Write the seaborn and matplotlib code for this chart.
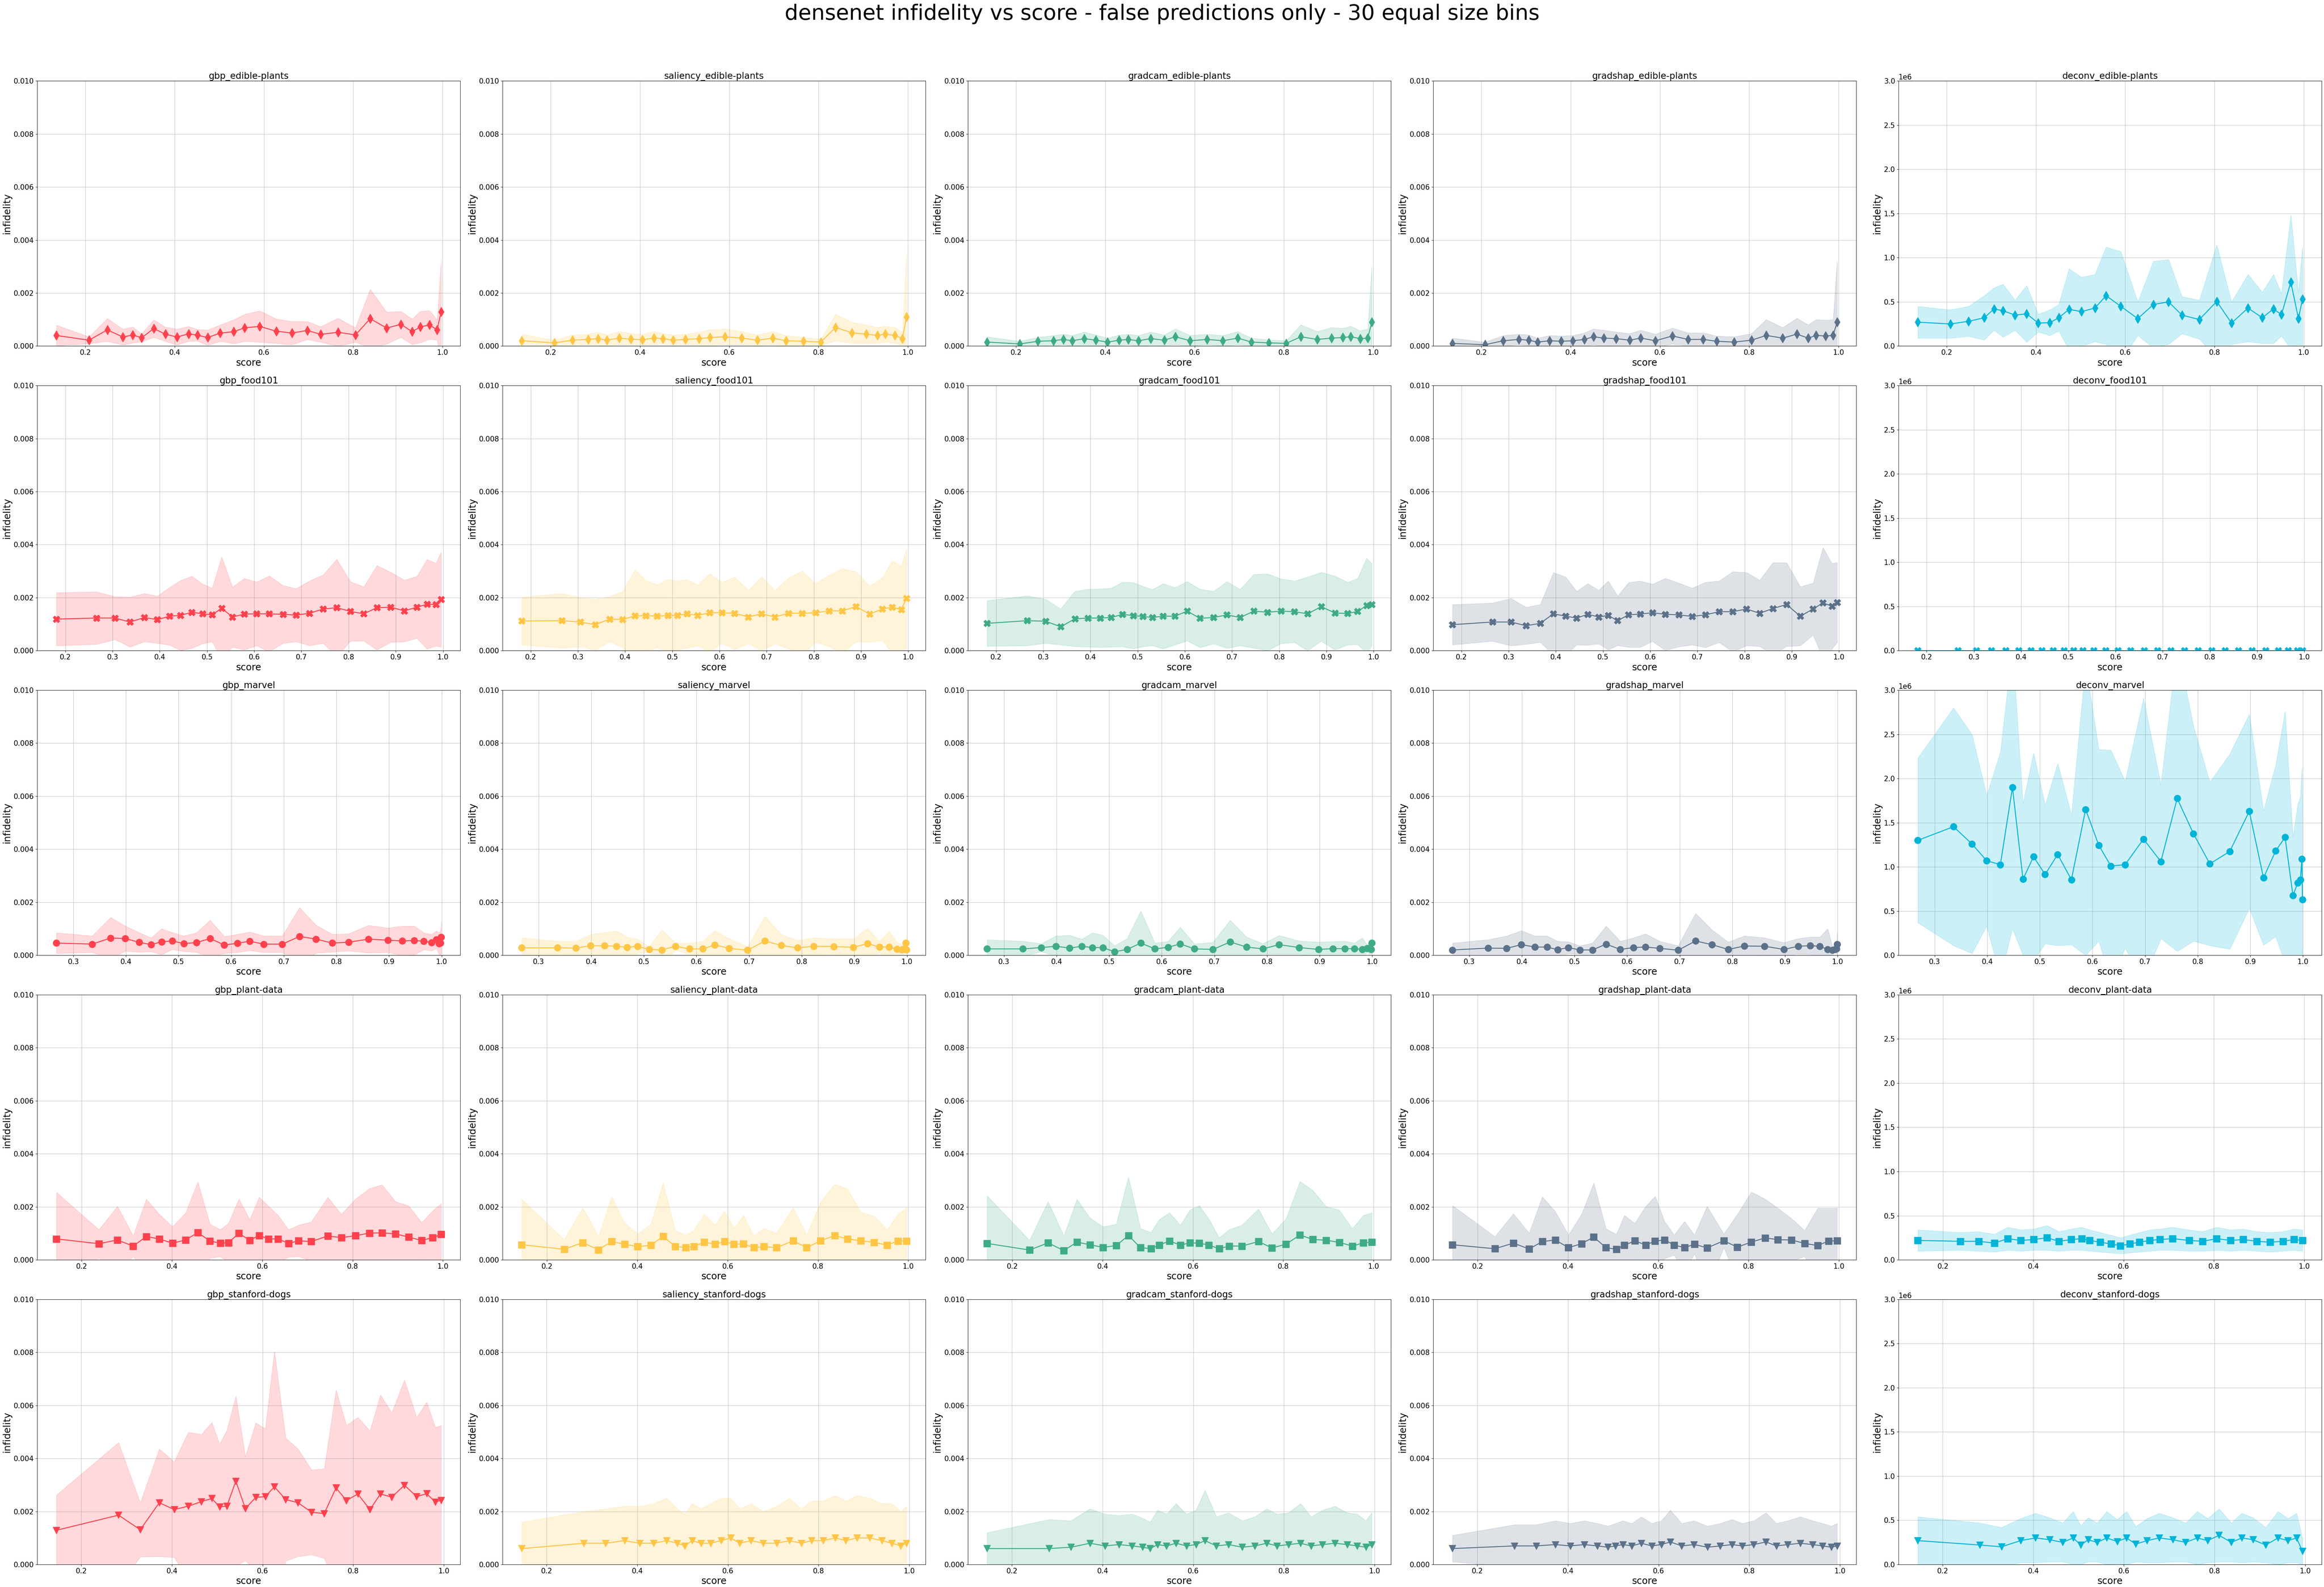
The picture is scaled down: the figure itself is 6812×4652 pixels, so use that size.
import numpy as np
import pandas as pd
import seaborn as sns
import matplotlib.pyplot as plt

# bin centres (mean score per bin), one per dataset
x_edible = [0.135, 0.208, 0.249, 0.284, 0.306, 0.326, 0.353, 0.379, 0.405, 0.431, 0.451, 0.474, 0.502, 0.532, 0.557,
            0.590, 0.628, 0.663, 0.697, 0.727, 0.766, 0.805, 0.838, 0.875, 0.907, 0.932, 0.950, 0.971, 0.988, 0.997]
x_food = [0.181, 0.266, 0.305, 0.337, 0.367, 0.395, 0.421, 0.444, 0.468, 0.491, 0.511, 0.531, 0.554, 0.579, 0.605,
          0.632, 0.661, 0.689, 0.717, 0.746, 0.775, 0.804, 0.832, 0.860, 0.889, 0.918, 0.945, 0.966, 0.985, 0.996]
x_marvel = [0.268, 0.336, 0.371, 0.399, 0.425, 0.448, 0.468, 0.488, 0.510, 0.534, 0.560, 0.587, 0.612, 0.635, 0.662,
            0.697, 0.730, 0.761, 0.792, 0.823, 0.861, 0.898, 0.925, 0.948, 0.966, 0.981, 0.990, 0.995, 0.998, 0.999]
x_plant = [0.144, 0.238, 0.279, 0.314, 0.343, 0.372, 0.401, 0.430, 0.457, 0.484, 0.507, 0.525, 0.548, 0.572, 0.593,
           0.614, 0.635, 0.658, 0.680, 0.708, 0.745, 0.775, 0.806, 0.837, 0.865, 0.895, 0.924, 0.953, 0.977, 0.996]
x_dogs = [0.145, 0.282, 0.330, 0.372, 0.405, 0.436, 0.465, 0.488, 0.505, 0.521, 0.541, 0.562, 0.585, 0.606, 0.626,
          0.651, 0.678, 0.708, 0.736, 0.762, 0.785, 0.810, 0.837, 0.860, 0.885, 0.913, 0.940, 0.962, 0.981, 0.994]

# ---- edible-plants ----
gbp_edible_mean = [.00040, .00022, .00061, .00034, .00042, .00031, .00066, .00045, .00034, .00046, .00041, .00032, .00049, .00054, .00069,
                   .00074, .00056, .00049, .00059, .00044, .00052, .00042, .00103, .00068, .00082, .00054, .00072, .00080, .00061, .00129]
gbp_edible_sd = [.00039, .00013, .00043, .00030, .00030, .00015, .00033, .00027, .00030, .00028, .00022, .00029, .00031, .00045, .00051,
                 .00059, .00046, .00044, .00034, .00029, .00053, .00027, .00111, .00060, .00049, .00048, .00059, .00054, .00038, .00193]
saliency_edible_mean = [.00020, .00012, .00022, .00025, .00028, .00022, .00030, .00026, .00024, .00030, .00028, .00022, .00025, .00028, .00032,
                        .00035, .00030, .00022, .00030, .00020, .00018, .00015, .00070, .00050, .00045, .00040, .00045, .00040, .00028, .00110]
saliency_edible_sd = [.00025, .00010, .00020, .00020, .00025, .00020, .00025, .00022, .00020, .00025, .00020, .00020, .00020, .00025, .00030,
                      .00030, .00025, .00020, .00025, .00020, .00015, .00012, .00050, .00040, .00035, .00030, .00030, .00030, .00025, .00240]
gradcam_edible_mean = [.00015, .00008, .00018, .00020, .00025, .00020, .00028, .00022, .00015, .00022, .00025, .00020, .00028, .00022, .00035,
                       .00020, .00025, .00020, .00030, .00015, .00012, .00010, .00035, .00025, .00030, .00032, .00035, .00028, .00030, .00090]
gradcam_edible_sd = [.00020, .00010, .00015, .00020, .00020, .00020, .00025, .00020, .00015, .00020, .00020, .00020, .00025, .00020, .00030,
                     .00020, .00020, .00020, .00025, .00015, .00012, .00010, .00045, .00030, .00040, .00035, .00040, .00030, .00035, .00210]
gradshap_edible_mean = [.00010, .00005, .00020, .00025, .00022, .00015, .00020, .00018, .00020, .00025, .00035, .00030, .00028, .00022, .00030,
                        .00020, .00038, .00025, .00025, .00018, .00015, .00022, .00040, .00030, .00045, .00030, .00040, .00038, .00040, .00090]
gradshap_edible_sd = [.00020, .00010, .00020, .00020, .00020, .00015, .00020, .00020, .00020, .00025, .00030, .00030, .00025, .00025, .00030,
                      .00025, .00030, .00025, .00025, .00020, .00020, .00025, .00060, .00040, .00060, .00050, .00060, .00060, .00060, .00230]
deconv_edible_mean = [0.27e6, 0.25e6, 0.28e6, 0.32e6, 0.42e6, 0.40e6, 0.35e6, 0.365e6, 0.26e6, 0.265e6, 0.32e6, 0.415e6, 0.39e6, 0.43e6, 0.57e6,
                      0.45e6, 0.31e6, 0.47e6, 0.50e6, 0.35e6, 0.30e6, 0.505e6, 0.26e6, 0.43e6, 0.32e6, 0.42e6, 0.355e6, 0.725e6, 0.31e6, 0.53e6]
deconv_edible_sd = [0.18e6, 0.16e6, 0.17e6, 0.25e6, 0.24e6, 0.30e6, 0.17e6, 0.32e6, 0.10e6, 0.145e6, 0.15e6, 0.46e6, 0.39e6, 0.38e6, 0.55e6,
                    0.62e6, 0.19e6, 0.49e6, 0.48e6, 0.21e6, 0.22e6, 0.64e6, 0.24e6, 0.38e6, 0.29e6, 0.39e6, 0.24e6, 0.76e6, 0.29e6, 0.59e6]

# ---- food101 ----
gbp_food_mean = [.00119, .00123, .00123, .00108, .00125, .00117, .00130, .00133, .00145, .00139, .00135, .00160, .00127, .00138, .00139,
                 .00139, .00137, .00134, .00141, .00157, .00162, .00148, .00139, .00162, .00164, .00150, .00164, .00175, .00174, .00193]
gbp_food_sd = [.00100, .00099, .00081, .00094, .00091, .00089, .00109, .00132, .00136, .00112, .00101, .00194, .00113, .00135, .00120,
               .00143, .00109, .00100, .00122, .00129, .00183, .00112, .00102, .00159, .00132, .00116, .00117, .00169, .00156, .00179]
saliency_food_mean = [.00112, .00113, .00108, .00098, .00119, .00118, .00131, .00132, .00130, .00133, .00133, .00139, .00133, .00143, .00143,
                      .00141, .00127, .00139, .00127, .00141, .00141, .00143, .00150, .00150, .00166, .00138, .00157, .00164, .00155, .00197]
saliency_food_sd = [.00090, .00103, .00093, .00096, .00085, .00106, .00175, .00133, .00119, .00136, .00130, .00129, .00115, .00147, .00115,
                    .00137, .00101, .00139, .00101, .00134, .00159, .00110, .00135, .00160, .00132, .00106, .00118, .00175, .00164, .00186]
gradcam_food_mean = [.00103, .00113, .00111, .00090, .00120, .00123, .00123, .00125, .00137, .00132, .00129, .00125, .00130, .00130, .00149,
                     .00122, .00125, .00135, .00125, .00149, .00145, .00149, .00147, .00139, .00166, .00142, .00140, .00148, .00170, .00174]
gradcam_food_sd = [.00086, .00094, .00083, .00068, .00104, .00109, .00110, .00111, .00122, .00125, .00114, .00106, .00123, .00108, .00112,
                   .00110, .00099, .00126, .00106, .00139, .00145, .00122, .00116, .00139, .00130, .00139, .00118, .00125, .00179, .00155]
gradshap_food_mean = [.00098, .00108, .00108, .00094, .00103, .00139, .00130, .00123, .00137, .00127, .00133, .00113, .00135, .00138, .00143,
                      .00137, .00135, .00129, .00135, .00147, .00147, .00157, .00141, .00159, .00174, .00130, .00157, .00180, .00168, .00182]
gradshap_food_sd = [.00076, .00072, .00089, .00070, .00071, .00156, .00148, .00101, .00116, .00101, .00130, .00093, .00122, .00125, .00108,
                    .00136, .00120, .00107, .00123, .00116, .00151, .00138, .00125, .00173, .00158, .00111, .00098, .00209, .00161, .00151]
deconv_food_mean = [.00110, .00115, .00112, .00100, .00120, .00121, .00125, .00127, .00135, .00131, .00130, .00135, .00130, .00134, .00142,
                    .00132, .00130, .00135, .00130, .00148, .00146, .00150, .00146, .00150, .00168, .00138, .00150, .00165, .00166, .00185]
deconv_food_sd = [.00090, .00095, .00085, .00080, .00090, .00100, .00120, .00115, .00120, .00120, .00115, .00130, .00115, .00125, .00115,
                  .00125, .00110, .00115, .00115, .00130, .00160, .00120, .00120, .00160, .00140, .00120, .00115, .00170, .00165, .00170]

# ---- marvel ----
gbp_marvel_mean = [.00046, .00042, .00065, .00063, .00049, .00040, .00051, .00054, .00044, .00048, .00063, .00039, .00045, .00053, .00042,
                   .00042, .00071, .00061, .00046, .00049, .00061, .00057, .00054, .00056, .00053, .00048, .00059, .00044, .00046, .00068]
gbp_marvel_sd = [.00039, .00031, .00078, .00047, .00037, .00026, .00049, .00032, .00029, .00037, .00069, .00032, .00034, .00035, .00031,
                 .00031, .00109, .00053, .00033, .00032, .00052, .00046, .00056, .00054, .00032, .00031, .00033, .00042, .00047, .00055]
saliency_marvel_mean = [.00028, .00028, .00027, .00036, .00036, .00034, .00030, .00034, .00022, .00020, .00034, .00024, .00024, .00039, .00026,
                        .00019, .00054, .00037, .00028, .00034, .00033, .00030, .00044, .00031, .00031, .00023, .00021, .00024, .00046, .00021]
saliency_marvel_sd = [.00038, .00025, .00026, .00043, .00050, .00058, .00039, .00027, .00010, .00076, .00013, .00022, .00029, .00054, .00037,
                      .00013, .00093, .00042, .00028, .00032, .00030, .00033, .00057, .00022, .00060, .00026, .00021, .00020, .00010, .00058]
gradcam_marvel_mean = [.00024, .00024, .00029, .00034, .00027, .00034, .00029, .00029, .00013, .00022, .00046, .00024, .00030, .00043, .00024,
                       .00022, .00050, .00031, .00024, .00040, .00029, .00022, .00025, .00025, .00025, .00022, .00026, .00027, .00022, .00046]
gradcam_marvel_sd = [.00035, .00029, .00015, .00039, .00049, .00027, .00056, .00047, .00023, .00041, .00121, .00022, .00023, .00063, .00019,
                     .00027, .00082, .00038, .00020, .00035, .00025, .00028, .00027, .00028, .00021, .00044, .00013, .00026, .00036, .00012]
gradshap_marvel_mean = [.00020, .00027, .00026, .00040, .00031, .00031, .00021, .00029, .00020, .00020, .00042, .00022, .00029, .00031, .00026,
                        .00019, .00054, .00040, .00022, .00035, .00034, .00022, .00034, .00036, .00034, .00022, .00020, .00022, .00024, .00042]
gradshap_marvel_sd = [.00026, .00032, .00047, .00053, .00042, .00042, .00032, .00022, .00016, .00026, .00068, .00031, .00037, .00050, .00027,
                      .00017, .00104, .00056, .00028, .00038, .00032, .00026, .00029, .00033, .00035, .00078, .00016, .00010, .00010, .00044]
deconv_marvel_mean = [1.30e6, 1.455e6, 1.26e6, 1.07e6, 1.025e6, 1.90e6, 0.86e6, 1.115e6, 0.915e6, 1.14e6, 0.855e6, 1.65e6, 1.245e6, 1.01e6, 1.025e6,
                      1.315e6, 1.06e6, 1.775e6, 1.375e6, 1.035e6, 1.175e6, 1.63e6, 0.875e6, 1.18e6, 1.335e6, 0.675e6, 0.82e6, 0.855e6, 1.09e6, 0.63e6]
deconv_marvel_sd = [0.93e6, 1.345e6, 1.24e6, 0.74e6, 1.275e6, 1.60e6, 0.86e6, 1.175e6, 0.785e6, 1.03e6, 0.735e6, 1.65e6, 1.085e6, 1.31e6, 0.945e6,
                    1.595e6, 0.87e6, 1.73e6, 1.215e6, 0.925e6, 1.105e6, 1.10e6, 0.76e6, 0.97e6, 1.425e6, 0.66e6, 0.89e6, 0.935e6, 1.03e6, 0.89e6]

# ---- plant-data ----
gbp_plant_mean = [.00079, .00061, .00075, .00052, .00088, .00079, .00063, .00075, .00103, .00071, .00063, .00065, .00100, .00074, .00092,
                  .00079, .00079, .00062, .00072, .00069, .00090, .00084, .00091, .00101, .00102, .00098, .00086, .00073, .00084, .00096]
gbp_plant_sd = [.00176, .00053, .00127, .00039, .00141, .00093, .00062, .00102, .00191, .00064, .00051, .00073, .00130, .00078, .00145,
                .00123, .00089, .00052, .00059, .00074, .00146, .00088, .00138, .00168, .00181, .00122, .00118, .00068, .00101, .00116]
saliency_plant_mean = [.00057, .00040, .00065, .00038, .00069, .00059, .00050, .00055, .00089, .00050, .00047, .00050, .00067, .00059, .00069,
                       .00059, .00060, .00046, .00050, .00046, .00072, .00046, .00072, .00092, .00079, .00072, .00066, .00056, .00071, .00071]
saliency_plant_sd = [.00172, .00037, .00132, .00052, .00170, .00080, .00048, .00080, .00203, .00061, .00047, .00061, .00106, .00072, .00116,
                     .00062, .00108, .00045, .00069, .00055, .00125, .00048, .00147, .00194, .00190, .00108, .00099, .00058, .00101, .00126]
gradcam_plant_mean = [.00062, .00037, .00064, .00035, .00067, .00057, .00047, .00054, .00092, .00046, .00042, .00056, .00071, .00056, .00064,
                      .00063, .00056, .00042, .00052, .00052, .00069, .00045, .00059, .00094, .00077, .00074, .00066, .00052, .00064, .00067]
gradcam_plant_sd = [.00180, .00037, .00156, .00056, .00162, .00101, .00078, .00081, .00220, .00072, .00062, .00096, .00107, .00075, .00124,
                    .00142, .00099, .00042, .00062, .00079, .00123, .00053, .00096, .00202, .00186, .00127, .00122, .00066, .00104, .00111]
gradshap_plant_mean = [.00057, .00042, .00063, .00041, .00069, .00075, .00046, .00061, .00086, .00046, .00040, .00055, .00072, .00056, .00071,
                       .00075, .00056, .00046, .00059, .00045, .00072, .00048, .00067, .00083, .00076, .00075, .00062, .00054, .00071, .00072]
gradshap_plant_sd = [.00148, .00046, .00111, .00060, .00169, .00107, .00048, .00111, .00204, .00072, .00056, .00113, .00066, .00146, .00169,
                     .00070, .00038, .00099, .00035, .00157, .00026, .00124, .00189, .00146, .00119, .00081, .00049, .00141, .00124, .00123]
deconv_plant_mean = [0.22e6, 0.21e6, 0.21e6, 0.19e6, 0.24e6, 0.22e6, 0.23e6, 0.25e6, 0.21e6, 0.23e6, 0.24e6, 0.22e6, 0.20e6, 0.18e6, 0.16e6,
                     0.18e6, 0.20e6, 0.22e6, 0.23e6, 0.24e6, 0.22e6, 0.21e6, 0.24e6, 0.22e6, 0.23e6, 0.21e6, 0.20e6, 0.21e6, 0.23e6, 0.22e6]
deconv_plant_sd = [0.12e6, 0.10e6, 0.11e6, 0.10e6, 0.13e6, 0.12e6, 0.12e6, 0.14e6, 0.11e6, 0.12e6, 0.13e6, 0.12e6, 0.11e6, 0.10e6, 0.09e6,
                   0.10e6, 0.11e6, 0.12e6, 0.12e6, 0.13e6, 0.12e6, 0.11e6, 0.13e6, 0.12e6, 0.12e6, 0.11e6, 0.11e6, 0.11e6, 0.12e6, 0.12e6]

# ---- stanford-dogs ----
gbp_dogs_mean = [.00129, .00186, .00131, .00233, .00207, .00220, .00237, .00249, .00217, .00220, .00314, .00211, .00253, .00256, .00293,
                 .00245, .00233, .00197, .00192, .00289, .00241, .00266, .00207, .00266, .00254, .00299, .00256, .00267, .00236, .00242]
gbp_dogs_sd = [.00133, .00274, .00102, .00203, .00180, .00279, .00254, .00287, .00237, .00286, .00321, .00196, .00281, .00256, .00511,
               .00232, .00203, .00160, .00169, .00369, .00284, .00289, .00297, .00374, .00318, .00397, .00299, .00346, .00282, .00282]
saliency_dogs_mean = [.00060, .00080, .00080, .00090, .00080, .00080, .00090, .00080, .00070, .00090, .00080, .00080, .00090, .00100, .00080,
                      .00090, .00080, .00080, .00090, .00080, .00090, .00090, .00100, .00090, .00100, .00100, .00090, .00080, .00070, .00080]
saliency_dogs_sd = [.00100, .00120, .00130, .00130, .00140, .00150, .00160, .00130, .00120, .00140, .00130, .00150, .00160, .00150, .00130,
                    .00140, .00120, .00140, .00160, .00130, .00150, .00150, .00160, .00150, .00160, .00150, .00140, .00150, .00130, .00140]
gradcam_dogs_mean = [.00060, .00060, .00065, .00080, .00070, .00075, .00070, .00065, .00060, .00075, .00070, .00080, .00070, .00075, .00090,
                     .00070, .00075, .00065, .00070, .00080, .00070, .00075, .00080, .00070, .00075, .00080, .00075, .00070, .00065, .00075]
gradcam_dogs_sd = [.00060, .00110, .00100, .00130, .00120, .00110, .00120, .00110, .00100, .00130, .00120, .00150, .00120, .00130, .00190,
                   .00110, .00120, .00100, .00110, .00130, .00120, .00120, .00150, .00110, .00130, .00140, .00120, .00120, .00100, .00120]
gradshap_dogs_mean = [.00060, .00070, .00070, .00075, .00070, .00075, .00070, .00065, .00070, .00075, .00070, .00080, .00070, .00075, .00085,
                      .00070, .00075, .00065, .00070, .00075, .00070, .00075, .00085, .00070, .00075, .00080, .00075, .00070, .00065, .00070]
gradshap_dogs_sd = [.00050, .00080, .00080, .00090, .00085, .00090, .00085, .00080, .00085, .00090, .00085, .00100, .00085, .00090, .00120,
                    .00085, .00090, .00080, .00085, .00095, .00085, .00090, .00110, .00085, .00090, .00100, .00090, .00085, .00080, .00085]
deconv_dogs_mean = [0.27e6, 0.22e6, 0.20e6, 0.27e6, 0.30e6, 0.28e6, 0.25e6, 0.30e6, 0.22e6, 0.28e6, 0.25e6, 0.30e6, 0.26e6, 0.30e6, 0.23e6,
                    0.27e6, 0.30e6, 0.28e6, 0.25e6, 0.30e6, 0.27e6, 0.33e6, 0.25e6, 0.30e6, 0.28e6, 0.22e6, 0.30e6, 0.27e6, 0.30e6, 0.15e6]
deconv_dogs_sd = [0.27e6, 0.25e6, 0.22e6, 0.25e6, 0.28e6, 0.25e6, 0.22e6, 0.30e6, 0.22e6, 0.25e6, 0.22e6, 0.30e6, 0.25e6, 0.30e6, 0.20e6,
                  0.25e6, 0.28e6, 0.25e6, 0.22e6, 0.30e6, 0.25e6, 0.30e6, 0.22e6, 0.28e6, 0.25e6, 0.20e6, 0.30e6, 0.25e6, 0.28e6, 0.15e6]

methods = ['gbp', 'saliency', 'gradcam', 'gradshap', 'deconv']
datasets = ['edible-plants', 'food101', 'marvel', 'plant-data', 'stanford-dogs']
method_colors = ['#ff414d', '#ffc545', '#3faa88', '#5b7189', '#00b4d8']
dataset_markers = ['d', 'X', 'o', 's', 'v']
dataset_x = [x_edible, x_food, x_marvel, x_plant, x_dogs]

panels = {
    ('gbp', 'edible-plants'): (gbp_edible_mean, gbp_edible_sd),
    ('saliency', 'edible-plants'): (saliency_edible_mean, saliency_edible_sd),
    ('gradcam', 'edible-plants'): (gradcam_edible_mean, gradcam_edible_sd),
    ('gradshap', 'edible-plants'): (gradshap_edible_mean, gradshap_edible_sd),
    ('deconv', 'edible-plants'): (deconv_edible_mean, deconv_edible_sd),
    ('gbp', 'food101'): (gbp_food_mean, gbp_food_sd),
    ('saliency', 'food101'): (saliency_food_mean, saliency_food_sd),
    ('gradcam', 'food101'): (gradcam_food_mean, gradcam_food_sd),
    ('gradshap', 'food101'): (gradshap_food_mean, gradshap_food_sd),
    ('deconv', 'food101'): (deconv_food_mean, deconv_food_sd),
    ('gbp', 'marvel'): (gbp_marvel_mean, gbp_marvel_sd),
    ('saliency', 'marvel'): (saliency_marvel_mean, saliency_marvel_sd),
    ('gradcam', 'marvel'): (gradcam_marvel_mean, gradcam_marvel_sd),
    ('gradshap', 'marvel'): (gradshap_marvel_mean, gradshap_marvel_sd),
    ('deconv', 'marvel'): (deconv_marvel_mean, deconv_marvel_sd),
    ('gbp', 'plant-data'): (gbp_plant_mean, gbp_plant_sd),
    ('saliency', 'plant-data'): (saliency_plant_mean, saliency_plant_sd),
    ('gradcam', 'plant-data'): (gradcam_plant_mean, gradcam_plant_sd),
    ('gradshap', 'plant-data'): (gradshap_plant_mean, gradshap_plant_sd),
    ('deconv', 'plant-data'): (deconv_plant_mean, deconv_plant_sd),
    ('gbp', 'stanford-dogs'): (gbp_dogs_mean, gbp_dogs_sd),
    ('saliency', 'stanford-dogs'): (saliency_dogs_mean, saliency_dogs_sd),
    ('gradcam', 'stanford-dogs'): (gradcam_dogs_mean, gradcam_dogs_sd),
    ('gradshap', 'stanford-dogs'): (gradshap_dogs_mean, gradshap_dogs_sd),
    ('deconv', 'stanford-dogs'): (deconv_dogs_mean, deconv_dogs_sd),
}

fig, axes = plt.subplots(5, 5, figsize=(68.12, 46.52), dpi=100)
fig.subplots_adjust(left=0.016, right=0.999, top=0.949, bottom=0.0142, wspace=0.0996, hspace=0.149)

for r, ds in enumerate(datasets):
    for c, m in enumerate(methods):
        ax = axes[r, c]
        mean, sd = panels[(m, ds)]
        x = np.array(dataset_x[r])
        mean = np.array(mean)
        sd = np.array(sd)
        # two rows per bin (mean - sd, mean + sd): seaborn's mean gives the line, min/max gives the band
        df = pd.DataFrame({'score': np.concatenate([x, x]),
                           'infidelity': np.concatenate([mean - sd, mean + sd])})
        sns.lineplot(data=df, x='score', y='infidelity', ax=ax, estimator='mean',
                     errorbar=lambda v: (v.min(), v.max()),
                     color=method_colors[c], marker=dataset_markers[r], markersize=14,
                     markeredgecolor=method_colors[c], markeredgewidth=1, linewidth=2)
        if m == 'deconv':
            ax.set_ylim(0, 3e6)
        else:
            ax.set_ylim(0, 0.010)
        ax.grid(True, color='#c8c8c8', linewidth=1)
        ax.set_axisbelow(True)
        ax.set_title(f'{m}_{ds}', fontsize=19, pad=2)
        ax.set_xlabel('score', fontsize=20)
        ax.set_ylabel('infidelity', fontsize=20)
        ax.tick_params(labelsize=15)
        ax.yaxis.get_offset_text().set_fontsize(15)

fig.suptitle('densenet infidelity vs score - false predictions only - 30 equal size bins',
             fontsize=45, y=1 - 41 / 4652, va='center')

fig.savefig('out.png', dpi=100)
